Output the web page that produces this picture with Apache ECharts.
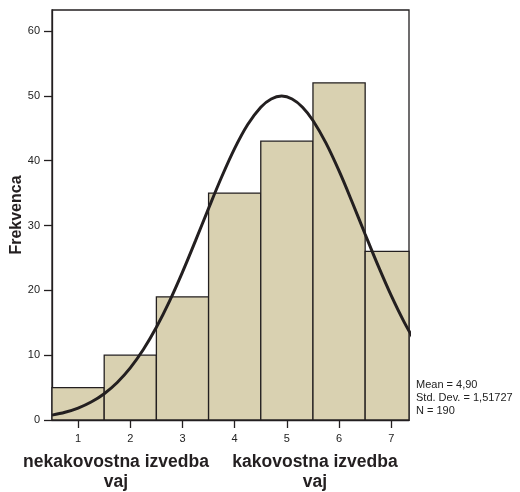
<!DOCTYPE html>
<html><head><meta charset="utf-8">
<script src="https://cdn.jsdelivr.net/npm/echarts@6/dist/echarts.min.js"></script>
<style>html,body{margin:0;padding:0;background:#fff}#c{width:520px;height:492px}</style>
</head><body><div id="c"></div>
<script>
const categories = [1, 2, 3, 4, 5, 6, 7];
const counts = [5, 10, 19, 35, 43, 52, 26];
const yTicks = [0, 10, 20, 30, 40, 50, 60];
const curveX = [0.5,0.75,1,1.25,1.5,1.75,2,2.25,2.5,2.75,3,3.25,3.5,3.75,4,4.25,4.5,4.7,4.9,5.1,5.3,5.5,5.75,6,6.25,6.5,6.75,7,7.25,7.5];
const curveY = [0.75,1.19,1.84,2.77,4.06,5.79,8.04,10.87,14.30,18.30,22.81,27.66,32.64,37.48,41.90,45.58,48.25,49.52,49.96,49.52,48.25,46.20,42.70,38.41,33.63,28.65,23.76,19.17,15.06,11.51];
const statsLines = ['Mean = 4,90', 'Std. Dev. = 1,51727', 'N = 190'];

const bins = categories.map((c, i) => [c - 0.5, c + 0.5, counts[i]]);
const curve = curveX.map((x, i) => [x, curveY[i]]);
const FONT = '"Liberation Sans", Arial, Helvetica, sans-serif';
const ink = '#231f20';

const chart = echarts.init(document.getElementById('c'), null, {renderer: 'canvas'});
chart.setOption({
  animation: false,
  grid: {left: 52, top: 10, right: 111, bottom: 72, show: true, borderColor: ink, borderWidth: 1.3, backgroundColor: '#fff'},
  xAxis: {
    type: 'value', min: 0.5, max: 7.34,
    axisLine: {show: true, lineStyle: {color: ink, width: 1.3}},
    axisTick: {show: true, length: 8, customValues: categories, lineStyle: {color: ink, width: 1.3}},
    axisLabel: {customValues: categories, margin: 13, color: '#222', fontSize: 11, fontFamily: FONT},
    splitLine: {show: false}
  },
  yAxis: {
    type: 'value', min: 0, max: 63.24,
    axisLine: {show: true, lineStyle: {color: ink, width: 1.3}},
    axisTick: {show: true, length: 8, customValues: yTicks, lineStyle: {color: ink, width: 1.3}},
    axisLabel: {customValues: yTicks, margin: 12, color: '#222', fontSize: 11, fontFamily: FONT},
    splitLine: {show: false}
  },
  series: [
    {
      type: 'custom',
      data: bins,
      encode: {x: [0, 1], y: 2},
      renderItem: function (params, api) {
        const lo = api.value(0), hi = api.value(1), v = api.value(2);
        const p0 = api.coord([lo, v]);
        const p1 = api.coord([hi, 0]);
        const cs = params.coordSys;
        const rect = echarts.graphic.clipRectByRect(
          {x: p0[0], y: p0[1], width: p1[0] - p0[0], height: p1[1] - p0[1]},
          {x: cs.x, y: cs.y, width: cs.width, height: cs.height});
        if (!rect) return;
        return {type: 'rect', shape: rect, style: {fill: '#d9d1b1', stroke: ink, lineWidth: 1.3}};
      },
      z: 2
    },
    {
      type: 'line', data: curve, smooth: 0.35, showSymbol: false, clip: true,
      lineStyle: {color: ink, width: 3}, z: 3
    }
  ],
  graphic: [
    {type: 'text', x: 17, y: 215, rotation: Math.PI / 2, style: {text: 'Frekvenca', font: 'bold 16px ' + FONT, fill: ink, align: 'center', verticalAlign: 'middle'}},
    {type: 'text', x: 116, y: 472, style: {text: 'nekakovostna izvedba\nvaj', font: 'bold 17.5px ' + FONT, fill: ink, align: 'center', verticalAlign: 'middle', lineHeight: 20}},
    {type: 'text', x: 315, y: 472, style: {text: 'kakovostna izvedba\nvaj', font: 'bold 17.5px ' + FONT, fill: ink, align: 'center', verticalAlign: 'middle', lineHeight: 20}},
    {type: 'text', x: 416, y: 398, style: {text: statsLines.join('\n'), font: '11px ' + FONT, fill: '#222', align: 'left', verticalAlign: 'middle', lineHeight: 12.7}}
  ]
});
</script></body></html>
